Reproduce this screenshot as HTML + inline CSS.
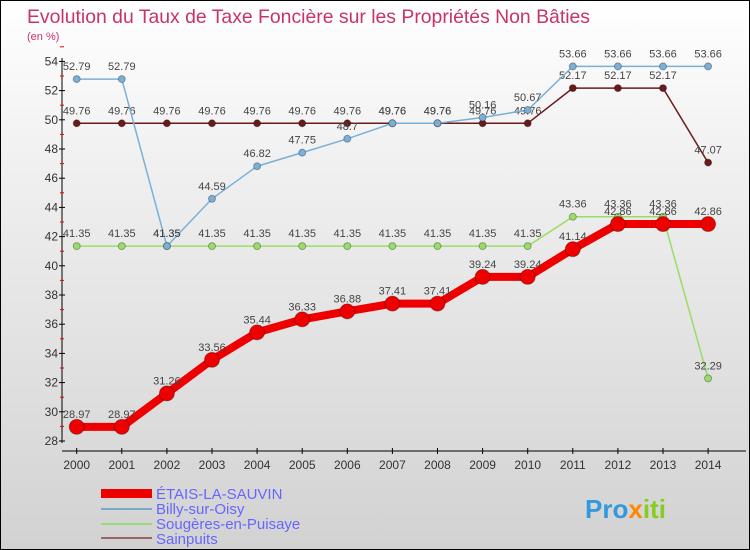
<!DOCTYPE html>
<html><head><meta charset="utf-8"><style>
body{margin:0}
#c{width:748px;height:548px;border:1px solid #000;background:linear-gradient(#ffffff,#f0f0f0 30%,#d2d2d2);position:relative;font-family:"Liberation Sans",sans-serif;overflow:hidden}
svg{position:absolute;left:0;top:0}
</style></head><body>
<div id="c">
<svg id="s" width="750" height="550">
<text x="26" y="22" font-size="19.4" fill="#c8336a">Evolution du Taux de Taxe Foncière sur les Propriétés Non Bâties</text>
<text x="26" y="39" font-size="11" fill="#c8336a">(en %)</text>
<text x="155" y="498" font-size="15" fill="#6666ff">ÉTAIS-LA-SAUVIN</text>
<text x="155" y="513" font-size="15" fill="#6666ff">Billy-sur-Oisy</text>
<text x="155" y="528" font-size="15" fill="#6666ff">Sougères-en-Puisaye</text>
<text x="155" y="543" font-size="15" fill="#6666ff">Sainpuits</text>
<rect x="100" y="488" width="51" height="9" fill="#ee0000"/>
<rect x="100" y="507" width="51" height="2" fill="#7ba9cc"/>
<rect x="100" y="522" width="51" height="2" fill="#99dd77"/>
<rect x="100" y="536" width="51" height="2" fill="#996666"/>
<text x="584" y="517" font-size="26" font-weight="bold" fill="#3399dd">Pro<tspan fill="#ff8800">x</tspan><tspan fill="#88cc22">iti</tspan></text>
</svg>
</div>
<script>
const years=[2000,2001,2002,2003,2004,2005,2006,2007,2008,2009,2010,2011,2012,2013,2014];
const etais=[28.97,28.97,31.26,33.56,35.44,36.33,36.88,37.41,37.41,39.24,39.24,41.14,42.86,42.86,42.86];
const billy=[52.79,52.79,41.35,44.59,46.82,47.75,48.7,49.76,49.76,50.16,50.67,53.66,53.66,53.66,53.66];
const sougeres=[41.35,41.35,41.35,41.35,41.35,41.35,41.35,41.35,41.35,41.35,41.35,43.36,43.36,43.36,32.29];
const sainpuits=[49.76,49.76,49.76,49.76,49.76,49.76,49.76,49.76,49.76,49.76,49.76,52.17,52.17,52.17,47.07];
const yTicks=[28,30,32,34,36,38,40,42,44,46,48,50,52,54];
const NS='http://www.w3.org/2000/svg';
const svg=document.getElementById('s');
const X=i=>75.7+i*45.1;
const Y=v=>440-(v-28)*14.6;
function mk(t,a){const e=document.createElementNS(NS,t);for(const k in a)e.setAttribute(k,a[k]);svg.appendChild(e);return e;}
let ax=mk('line',{x1:61,y1:57,x2:61,y2:442,stroke:'#000'});


let bx=mk('line',{x1:61,y1:450,x2:745,y2:450,stroke:'#000'});


yTicks.forEach(v=>{
  mk('line',{x1:58,y1:Y(v),x2:64,y2:Y(v),stroke:'#000'});
  mk('line',{x1:59,y1:Y(v+1),x2:63,y2:Y(v+1),stroke:'#e00'});
  const t=mk('text',{x:57,y:Y(v)+4,'font-size':12,'text-anchor':'end',fill:'#333'});
  t.textContent=v;
  
  
});
years.forEach((y,i)=>{
  mk('line',{x1:X(i),y1:447,x2:X(i),y2:453,stroke:'#000'});
  const t=mk('text',{x:X(i),y:468,'font-size':12,'text-anchor':'middle',fill:'#333'});
  t.textContent=y;
  
  
});
function series(vals,color,w,r,name){
  const pl=mk('polyline',{points:vals.map((v,i)=>X(i)+','+Y(v)).join(' '),fill:'none',stroke:color,'stroke-width':w});
  
  
  vals.forEach((v,i)=>{
    const c=mk('circle',{cx:X(i),cy:Y(v),r:r,fill:color,stroke:'rgba(0,0,0,0.3)','stroke-width':1});
    
    
    const t=mk('text',{x:X(i),y:Y(v)-9,'font-size':11,'text-anchor':'middle',fill:'#444'});
    t.textContent=v.toFixed(2).replace(/0$/,'').replace(/\.$/,'');
    
    
  });
}
series(sainpuits,'#6b1a1a',1.5,3.5,'sainpuits');
series(sougeres,'#99dd66',1.5,3.5,'sougeres');
series(billy,'#7ab0d8',1.5,3.5,'billy');
series(etais,'#ee0000',8,7.5,'etais');
</script>
</body></html>
